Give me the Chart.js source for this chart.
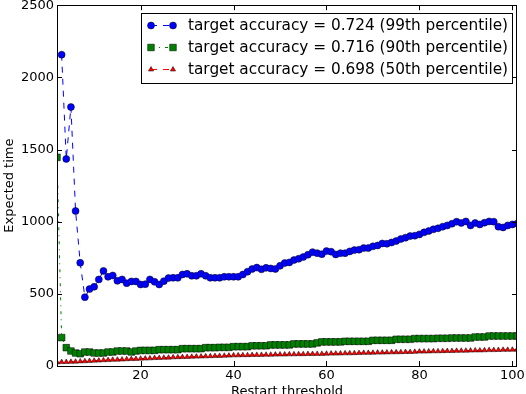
<!DOCTYPE html>
<html>
<head>
<meta charset="utf-8">
<script src="https://cdn.jsdelivr.net/npm/chart.js@4.4.1/dist/chart.umd.min.js"></script>
<style>
  html, body { margin: 0; padding: 0; background: #fff; }
</style>
</head>
<body>
<canvas id="myChart" width="526" height="394"></canvas>
<script>
// restart threshold (x)
var thresholds = [
    2, 3, 4, 5, 6, 7, 8, 9, 10, 11,
    12, 13, 14, 15, 16, 17, 18, 19, 20, 21,
    22, 23, 24, 25, 26, 27, 28, 29, 30, 31,
    32, 33, 34, 35, 36, 37, 38, 39, 40, 41,
    42, 43, 44, 45, 46, 47, 48, 49, 50, 51,
    52, 53, 54, 55, 56, 57, 58, 59, 60, 61,
    62, 63, 64, 65, 66, 67, 68, 69, 70, 71,
    72, 73, 74, 75, 76, 77, 78, 79, 80, 81,
    82, 83, 84, 85, 86, 87, 88, 89, 90, 91,
    92, 93, 94, 95, 96, 97, 98, 99, 100, 101
]
// expected time, 99th percentile (0.724)
var time99 = [
    null, 2157, 1435, 1794, 1074, 715, 477, 533, 549, 600,
    659, 618, 627, 590, 600, 574, 586, 586, 565, 567,
    600, 583, 565, 588, 609, 611, 611, 634, 639, 625,
    625, 639, 625, 611, 611, 611, 618, 618, 618, 618,
    634, 653, 672, 682, 670, 680, 676, 672, 694, 713,
    718, 734, 743, 755, 771, 789, 782, 775, 796, 792,
    773, 782, 782, 794, 803, 806, 817, 817, 829, 835,
    849, 847, 856, 866, 880, 889, 900, 903, 912, 926,
    935, 947, 954, 965, 974, 986, 1000, 991, 1002, 974,
    991, 981, 993, 1002, 1000, 965, 960, 974, 981, 986
]
// 90th percentile (0.716)
var time90 = [
    1446, 197, 127, 104, 90, 85, 97, 97, 90, 90,
    90, 97, 97, 104, 104, 104, 97, 104, 108, 108,
    108, 108, 113, 113, 113, 113, 113, 120, 120, 120,
    120, 120, 127, 127, 127, 129, 129, 129, 134, 134,
    134, 134, 140, 140, 140, 140, 146, 146, 146, 146,
    146, 153, 153, 153, 153, 153, 160, 167, 167, 167,
    167, 167, 171, 171, 171, 171, 171, 171, 178, 178,
    178, 178, 178, 185, 185, 185, 185, 190, 190, 190,
    190, 190, 192, 192, 192, 194, 194, 194, 194, 194,
    201, 201, 201, 208, 208, 208, 208, 208, 208, 208
]
// 50th percentile (0.698)
var time50 = [
    25, 27, 28, 29, 30, 32, 33, 35, 37, 38,
    40, 41, 43, 44, 45, 47, 48, 49, 51, 52,
    53, 55, 56, 57, 58, 60, 61, 62, 63, 64,
    65, 66, 67, 68, 69, 70, 71, 72, 74, 74,
    75, 75, 76, 77, 77, 78, 78, 79, 80, 80,
    81, 81, 82, 82, 83, 83, 84, 84, 85, 86,
    86, 87, 88, 88, 89, 90, 91, 91, 92, 93,
    93, 94, 95, 95, 96, 97, 97, 98, 100, 100,
    101, 102, 102, 103, 104, 104, 105, 106, 106, 107,
    108, 108, 109, 110, 110, 111, 112, 112, 113, 113
]
var seriesNames = [
    'target accuracy = 0.724 (99th percentile)',
    'target accuracy = 0.716 (90th percentile)',
    'target accuracy = 0.698 (50th percentile)'
]
var xTicks = [20, 40, 60, 80, 100]
var yTicks = [0, 500, 1000, 1500, 2000, 2500]

var FONT = 'DejaVu Sans'

function pts(values){
    var out = []
    for(i = 0; i < thresholds.length; i++){
        out.push({x: thresholds[i], y: values[i]})
    }
    return out
}

//matplotlib-like frame with inward ticks on all four sides
var frameTicks = {
    id: 'frameTicks',
    afterDatasetsDraw: function(chart){
        var ctx = chart.ctx, a = chart.chartArea
        var sx = chart.scales.x, sy = chart.scales.y
        ctx.save()
        ctx.strokeStyle = '#000'
        ctx.lineWidth = 1
        ctx.beginPath()
        xTicks.forEach(function(v){
            var p = Math.round(sx.getPixelForValue(v)) + 0.5
            ctx.moveTo(p, a.bottom); ctx.lineTo(p, a.bottom - 5)
            ctx.moveTo(p, a.top); ctx.lineTo(p, a.top + 5)
        })
        yTicks.forEach(function(v){
            var p = Math.round(sy.getPixelForValue(v)) + 0.5
            ctx.moveTo(a.left, p); ctx.lineTo(a.left + 5, p)
            ctx.moveTo(a.right, p); ctx.lineTo(a.right - 5, p)
        })
        ctx.stroke()
        ctx.strokeRect(Math.round(a.left) + 0.5, Math.round(a.top) + 0.5,
            Math.round(a.right - a.left) - 1, Math.round(a.bottom - a.top))
        ctx.restore()
    }
}

//legend box with line sample + two markers, like matplotlib
var boxLegend = {
    id: 'boxLegend',
    afterDraw: function(chart){
        var ctx = chart.ctx, a = chart.chartArea
        ctx.save()
        ctx.font = '15.3px "' + FONT + '"'
        var textW = 0
        seriesNames.forEach(function(s){ textW = Math.max(textW, ctx.measureText(s).width) })
        var boxW = Math.round(10 + 22 + 15 + textW + 4)
        var boxH = 70
        var bx = Math.round(a.right - 5 - boxW), by = Math.round(a.top + 8)
        ctx.fillStyle = '#fff'
        ctx.fillRect(bx, by, boxW, boxH)
        ctx.strokeStyle = '#000'
        ctx.lineWidth = 1
        ctx.strokeRect(bx + 0.5, by + 0.5, boxW, boxH)
        var ds = chart.data.datasets
        for(i = 0; i < seriesNames.length; i++){
            var d = ds[i]
            var y = by + 12 + i * 22
            var x0 = bx + 10, x1 = bx + 32
            ctx.strokeStyle = d.borderColor
            ctx.lineWidth = 1
            ctx.setLineDash(d.borderDash)
            ctx.beginPath(); ctx.moveTo(x0, y + 0.5); ctx.lineTo(x1, y + 0.5); ctx.stroke()
            ctx.setLineDash([])
            ctx.fillStyle = d.pointBackgroundColor
            ctx.strokeStyle = d.pointBorderColor
            ctx.lineWidth = d.pointBorderWidth
            var opt = {pointStyle: d.pointStyle, radius: d.pointRadius, rotation: 0, borderWidth: d.pointBorderWidth}
            Chart.helpers.drawPoint(ctx, opt, x0, y + 0.5)
            Chart.helpers.drawPoint(ctx, opt, x1, y + 0.5)
            ctx.fillStyle = '#000'
            ctx.textBaseline = 'middle'
            ctx.fillText(seriesNames[i], bx + 47, y + 1)
        }
        ctx.restore()
    }
}

var ctx = document.getElementById('myChart').getContext('2d')
var myChart = new Chart(ctx, {
    type: 'line',
    data: {
        datasets: [{
            label: seriesNames[0],
            data: pts(time99),
            borderColor: '#0000ff',
            borderWidth: 1,
            borderDash: [6, 6],
            pointStyle: 'circle',
            pointRadius: 3.5,
            pointBackgroundColor: '#0000ff',
            pointBorderColor: '#000',
            pointBorderWidth: 0.5,
            order: 2
        }, {
            label: seriesNames[1],
            data: pts(time90),
            borderColor: '#008000',
            borderWidth: 1,
            borderDash: [3, 5, 1, 5],
            pointStyle: 'rect',
            pointRadius: 4.7,
            pointBackgroundColor: '#008000',
            pointBorderColor: '#000',
            pointBorderWidth: 0.5,
            order: 1
        }, {
            label: seriesNames[2],
            data: pts(time50),
            borderColor: '#ff0000',
            borderWidth: 1,
            borderDash: [6, 6],
            pointStyle: 'triangle',
            pointRadius: 3,
            pointBackgroundColor: '#ff0000',
            pointBorderColor: '#000',
            pointBorderWidth: 0.5,
            order: 0
        }]
    },
    options: {
        responsive: false,
        animation: false,
        devicePixelRatio: 1,
        clip: 0,
        layout: {
            padding: {left: 2.3, right: 9, top: 4, bottom: -4}
        },
        plugins: {
            legend: {display: false},
            tooltip: {enabled: false}
        },
        elements: {
            line: {tension: 0, fill: false}
        },
        scales: {
            x: {
                type: 'linear',
                min: 2,
                max: 101,
                grid: {display: false, drawTicks: false},
                border: {display: false},
                afterBuildTicks: function(scale){
                    scale.ticks = xTicks.map(function(v){ return {value: v} })
                },
                afterFit: function(scale){
                    scale.paddingLeft = 0
                    scale.paddingRight = 0
                },
                ticks: {
                    color: '#000',
                    padding: 3,
                    maxRotation: 0,
                    font: {family: FONT, size: 13, lineHeight: 1},
                    callback: function(v){ return String(v) }
                },
                title: {
                    display: true,
                    text: 'Restart threshold',
                    color: '#000',
                    padding: 0,
                    font: {family: FONT, size: 13, lineHeight: 1}
                }
            },
            y: {
                min: 0,
                max: 2500,
                grid: {display: false, drawTicks: false},
                border: {display: false},
                afterBuildTicks: function(scale){
                    scale.ticks = yTicks.map(function(v){ return {value: v} })
                },
                afterFit: function(scale){
                    scale.paddingTop = 0
                    scale.paddingBottom = 0
                },
                ticks: {
                    color: '#000',
                    padding: 3,
                    font: {family: FONT, size: 13},
                    callback: function(v){ return String(v) }
                },
                title: {
                    display: true,
                    text: 'Expected time',
                    color: '#000',
                    padding: 0,
                    font: {family: FONT, size: 13}
                }
            }
        }
    },
    plugins: [frameTicks, boxLegend]
});
</script>
</body>
</html>
